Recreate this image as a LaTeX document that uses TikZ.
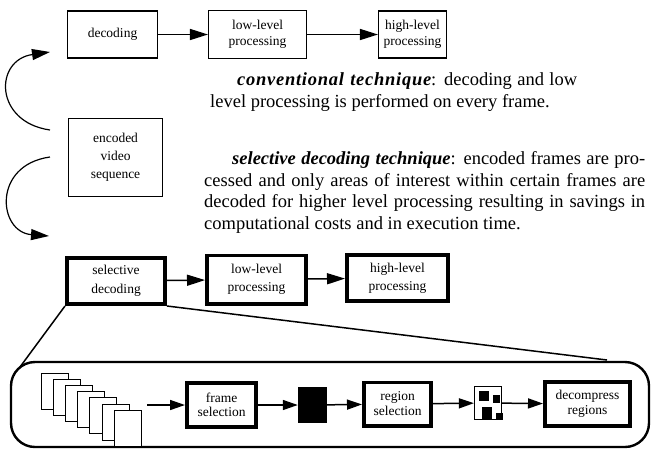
\documentclass[tikz,border=0pt]{standalone}
\usepackage{fontspec}
\setmainfont{Liberation Serif}
\usetikzlibrary{arrows.meta}

\begin{document}
\begin{tikzpicture}[x=1pt,y=-1pt]
\tikzset{BoxStyle/.style = {draw, line width=1.1pt, align=center, inner sep=0pt, font=\fontsize{13.5}{16.5}\selectfont},
ThickBoxStyle/.style = {BoxStyle, line width=3.6pt},
FrameStyle/.style = {draw, fill=white, line width=1.1pt, minimum width=27pt, minimum height=36pt, inner sep=0pt, anchor=north west},
ArrowStyle/.style = {-{Triangle[length=18pt,width=11pt]}, line width=1.5pt},
SmallArrowStyle/.style = {-{Triangle[length=15pt,width=10pt]}, line width=1.5pt},
TextStyle/.style = {anchor=north west, inner sep=0pt, align=justify, font=\fontsize{18.5}{21.7}\selectfont}
}
    \useasboundingbox (0,0) rectangle (660,451);

    % conventional row
    \node[BoxStyle, minimum width=90pt, minimum height=47pt] (dec) at (112.5,34.5) {decoding};
    \node[BoxStyle, minimum width=98pt, minimum height=48pt] (lowA) at (257.5,34.5) {low-level\\processing};
    \node[BoxStyle, minimum width=68pt, minimum height=47pt] (highA) at (412.5,34.5) {high-level\\processing};
    \draw[ArrowStyle] (dec) -- (lowA);
    \draw[ArrowStyle] (lowA) -- (highA);

    \node[BoxStyle, minimum width=94pt, minimum height=78pt, font=\fontsize{13.5}{18}\selectfont] (enc) at (115.5,157.5) {encoded\\video\\sequence};

    % curved arrows
    \coordinate (upS) at (50,130);
    \coordinate (upE) at (50,52);
    \coordinate (dnS) at (50,157);
    \coordinate (dnE) at (49,236);
    \draw[ArrowStyle, line width=1.2pt] (upS) .. controls (-6,122) and (-6,60) .. (upE);
    \draw[ArrowStyle, line width=1.2pt] (dnS) .. controls (-8,165) and (-2,232) .. (dnE);

    % texts
    \node[TextStyle, text width=367pt] (convText) at (210,72.3)
        {\hspace*{27pt}{\bfseries\itshape\addfontfeatures{LetterSpace=4}conventional technique}: decoding and low\linebreak level processing is performed on every frame.};
    \node[TextStyle, text width=441pt] (selText) at (204,151.3)
        {\hspace*{28pt}\textbf{\textit{selective decoding technique}}: encoded frames are pro-\linebreak cessed and only areas of interest within certain frames are\linebreak decoded for higher level processing resulting in savings in\linebreak computational costs and in execution time.};

    % selective row
    \node[ThickBoxStyle, minimum width=98.4pt, minimum height=46.4pt, font=\fontsize{13.5}{19}\selectfont] (selDec) at (116,281) {selective\\decoding};
    \node[ThickBoxStyle, minimum width=99.4pt, minimum height=48.4pt, font=\fontsize{13.5}{18}\selectfont] (lowB) at (256.5,279.5) {low-level\\processing};
    \node[ThickBoxStyle, minimum width=101.4pt, minimum height=46.4pt, font=\fontsize{13.5}{18}\selectfont] (highB) at (397.5,278) {high-level\\processing};
    \draw[ArrowStyle] (selDec) -- (lowB);
    \draw[ArrowStyle] (lowB) -- (highB);

    % zoomed view
    \node[draw, line width=2.4pt, rounded corners=24pt, minimum width=638pt, minimum height=85pt] (zoomBox) at (330,404.5) {};
    \coordinate (zoomL) at (20,367);
    \coordinate (zoomR) at (607,360);
    \draw[line width=1.5pt] (selDec.south west) -- (zoomL);
    \draw[line width=1.5pt] (selDec.south east) -- (zoomR);

    \foreach \i in {0,...,6}
        \node[FrameStyle] (frm\i) at ({40.5+12.2*\i},{372.5+6.2*\i}) {};
    \coordinate (stackOut) at (147,405);

    \node[ThickBoxStyle, minimum width=69.4pt, minimum height=44.4pt, font=\fontsize{13.5}{14.5}\selectfont] (frmSel) at (221.5,405) {frame\\selection};
    \node[fill, minimum width=29pt, minimum height=36pt, inner sep=0pt] (blk) at (312.5,405) {};
    \node[ThickBoxStyle, minimum width=67.4pt, minimum height=43.4pt, font=\fontsize{13.5}{15}\selectfont] (regSel) at (397.5,404) {region\\selection};
    \node[draw, line width=1.2pt, minimum width=27pt, minimum height=33pt, inner sep=0pt] (pat) at (488,403) {};
    \fill (479,391) rectangle (489,401);
    \fill (493,395) rectangle (500,403);
    \fill (482,407) rectangle (492,419);
    \fill (496,413) rectangle (503,420);
    \node[ThickBoxStyle, minimum width=85.4pt, minimum height=44.4pt, font=\fontsize{13.5}{15}\selectfont] (decomp) at (587.5,404) {decompress\\regions};

    \draw[SmallArrowStyle] (stackOut) -- (frmSel.west |- stackOut);
    \draw[SmallArrowStyle] (frmSel) -- (blk);
    \draw[SmallArrowStyle] (blk) -- (regSel);
    \draw[SmallArrowStyle] (regSel) -- (pat);
    \draw[SmallArrowStyle] (pat) -- (decomp);
\end{tikzpicture}
\end{document}
